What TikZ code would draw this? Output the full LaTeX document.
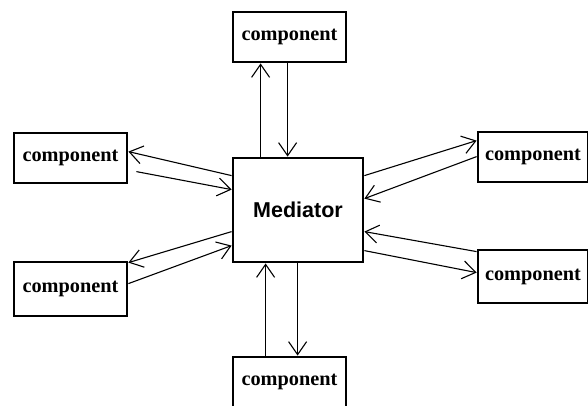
\documentclass[tikz,border=0pt]{standalone}
\usepackage{fontspec}
\setmainfont{Liberation Serif}
\newfontfamily\medfont{Liberation Sans}
\usetikzlibrary{arrows.meta,calc}
\begin{document}
\begin{tikzpicture}[x=1pt,y=-1pt,
  comp/.style={draw, line width=2.8pt, minimum width=113pt, minimum height=50pt,
    inner sep=0pt, font=\fontsize{20.3}{24}\selectfont\bfseries},
  hub/.style={draw, line width=2.8pt, minimum width=130pt, minimum height=104pt,
    inner sep=0pt, font=\medfont\fontsize{21.5}{26}\selectfont\bfseries},
  link/.style={line width=1.1pt, -{Straight Barb[length=13pt,width=18pt,line width=1.1pt]}}]
\useasboundingbox (0,0) rectangle (588,405);
% central mediator and the six components around it
\node[hub] (med) at (298,210) {Mediator};
\node[comp] (top) at (289.5,37) {component};
\node[comp] (bot) at (289.5,382) {component};
\node[comp] (lt) at (70.5,158) {component};
\node[comp, minimum height=54pt] (lb) at (70.5,289) {component};
\node[comp, minimum width=110pt] (rt) at (533,157) {component};
\node[comp, minimum width=110pt, minimum height=53pt] (rb) at (533,276.5) {component};
% vertical pairs
\draw[link] ($(med.north west)+(29,0)$) -- ($(top.south west)+(29,0)$);
\draw[link] ($(top.south west)+(56,0)$) -- ($(med.north west)+(56,0)$);
\draw[link] ($(bot.north west)+(34,0)$) -- ($(med.south west)+(34,0)$);
\draw[link] ($(med.south west)+(66,0)$) -- ($(bot.north west)+(66,0)$);
% left pairs
\draw[link] ($(med.north west)+(0,19)$) -- ($(lt.north east)+(0,20)$);
\draw[link] ($(lt.north east)+(8,40)$) -- ($(med.north west)+(0,33)$);
\draw[link] ($(med.north west)+(0,75)$) -- ($(lb.north east)+(0,2)$);
\draw[link] ($(lb.north east)+(0,23)$) -- ($(med.north west)+(0,89)$);
% right pairs
\draw[link] ($(med.north east)+(0,19)$) -- ($(rt.north west)+(0,10)$);
\draw[link] ($(rt.north west)+(0,26)$) -- ($(med.north east)+(0,42)$);
\draw[link] ($(rb.north west)+(0,3)$) -- ($(med.north east)+(0,75)$);
\draw[link] ($(med.north east)+(0,94)$) -- ($(rb.north west)+(0,24)$);
\end{tikzpicture}
\end{document}
